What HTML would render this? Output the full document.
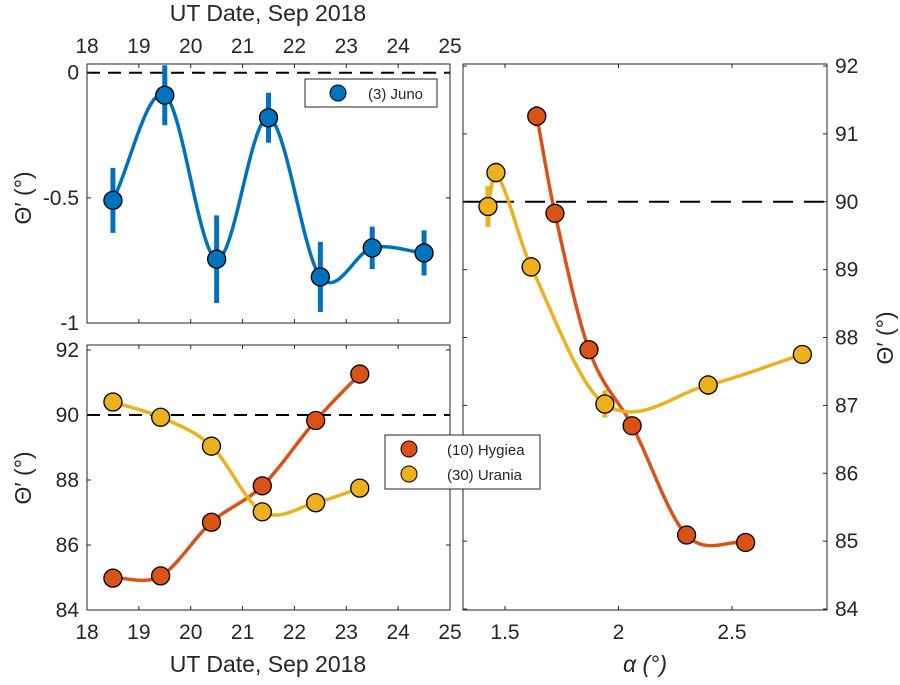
<!DOCTYPE html>
<html><head><meta charset="utf-8"><style>
body{margin:0;background:#fff}
svg text{font-family:"Liberation Sans",sans-serif;fill:#262626}
</style></head><body>
<svg id="c" width="900" height="680" xmlns="http://www.w3.org/2000/svg"></svg>
<script>
const junoDates=[18.5,19.5,20.5,21.5,22.5,23.5,24.5];
const junoVals=[-0.51,-0.09,-0.745,-0.18,-0.816,-0.70,-0.72];
const junoErr=[0.13,0.12,0.175,0.1,0.14,0.085,0.09];
const hygDates=[18.5,19.42,20.4,21.38,22.41,23.26];
const hygVals=[84.98,85.05,86.7,87.82,89.83,91.26];
const uraDates=[18.5,19.42,20.4,21.38,22.41,23.26];
const uraVals=[90.4,89.93,89.04,87.02,87.3,87.75];
const hygAlpha=[1.64,1.72,1.87,2.06,2.30,2.56];
const hygAlphaVals=[91.26,89.83,87.82,86.7,85.09,84.98];
const hygErr=[0.15,0.1,0.1,0.08,0.08,0.08];
const uraAlpha=[1.425,1.46,1.615,1.94,2.395,2.81];
const uraAlphaVals=[89.93,90.43,89.04,87.02,87.3,87.75];
const uraErr=[0.3,0.15,0.15,0.2,0.15,0.1];
const dateTicks=[18,19,20,21,22,23,24,25];
const junoTicks=[0,-0.5,-1];
const junoTickLabels=["0","-0.5","-1"];
const lowTicks=[84,86,88,90,92];
const rightTicks=[84,85,86,87,88,89,90,91,92];
const alphaTicks=[1.5,2,2.5];

const S=document.getElementById('c'),NS='http://www.w3.org/2000/svg';
function el(t,a,p){const e=document.createElementNS(NS,t);for(const k in a)e.setAttribute(k,a[k]);(p||S).appendChild(e);return e;}
function txt(s,a){const e=el('text',a);e.textContent=s;return e;}
const BLUE='#0072BD',RED='#D95319',YEL='#EDB120';
function lin(d0,d1,r0,r1){return v=>r0+(v-d0)/(d1-d0)*(r1-r0);}
function hermite(xs,ys){const n=xs.length,m=[];
 for(let i=0;i<n;i++){if(i==0)m[i]=(ys[1]-ys[0])/(xs[1]-xs[0]);else if(i==n-1)m[i]=(ys[n-1]-ys[n-2])/(xs[n-1]-xs[n-2]);else m[i]=(ys[i+1]-ys[i-1])/(xs[i+1]-xs[i-1]);}
 return x=>{let j=0;while(j<n-2&&x>xs[j+1])j++;const h=xs[j+1]-xs[j],t=(x-xs[j])/h,t2=t*t,t3=t2*t;
  return (2*t3-3*t2+1)*ys[j]+(t3-2*t2+t)*h*m[j]+(-2*t3+3*t2)*ys[j+1]+(t3-t2)*h*m[j+1];};}
function curve(xs,ys,X,Y,col,name,clip){const f=hermite(xs,ys);let p='';const N=240;
 for(let i=0;i<=N;i++){const x=xs[0]+(xs[xs.length-1]-xs[0])*i/N;p+=(i?'L':'M')+X(x).toFixed(2)+','+Y(f(x)).toFixed(2);}
 const e=el('path',{d:p,fill:'none',stroke:col,'stroke-width':3.5,'clip-path':clip});
 
 }
function pts(xs,ys,er,X,Y,col,name,clip){xs.forEach((x,i)=>{
 if(er){const eb=el('line',{x1:X(x),x2:X(x),y1:Y(ys[i]-er[i]),y2:Y(ys[i]+er[i]),stroke:col,'stroke-width':5,'clip-path':clip});
 
 }
 const c=el('circle',{cx:X(x),cy:Y(ys[i]),r:9,fill:col,stroke:'#000','stroke-width':1.3});
 
 });}
function box(x0,y0,x1,y1,name){const r=el('rect',{x:x0,y:y0,width:x1-x0,height:y1-y0,fill:'none',stroke:'#262626','stroke-width':1});
 
 }
function clipRect(id,x0,y0,x1,y1){const cp=el('clipPath',{id});el('rect',{x:x0,y:y0,width:x1-x0,height:y1-y0},cp);return 'url(#'+id+')';}

// Panel A
const aX=lin(18,25,87,450),aY=lin(0,-1,72.7,323);
const ca=clipRect('ca',87,64,450,323);
el('line',{x1:87,x2:450,y1:aY(0),y2:aY(0),stroke:'#000','stroke-width':2,'stroke-dasharray':'13,8'});
curve(junoDates,junoVals,aX,aY,BLUE,'juno-curve',ca);
pts(junoDates,junoVals,junoErr,aX,aY,BLUE,'juno',ca);
box(87,64,450,323,'juno-axes');
dateTicks.forEach(t=>{el('line',{x1:aX(t),x2:aX(t),y1:64,y2:68,stroke:'#262626'});el('line',{x1:aX(t),x2:aX(t),y1:323,y2:319,stroke:'#262626'});
 txt(t,{x:aX(t),y:53,'font-size':21,'text-anchor':'middle'});});
junoTicks.forEach((t,i)=>{el('line',{x1:87,x2:91,y1:aY(t),y2:aY(t),stroke:'#262626'});el('line',{x1:450,x2:446,y1:aY(t),y2:aY(t),stroke:'#262626'});
 txt(junoTickLabels[i],{x:79,y:aY(t)+7,'font-size':21,'text-anchor':'end'});});
txt('UT Date, Sep 2018',{x:268,y:21,'font-size':23,'text-anchor':'middle'});
txt('Θ′ (°)',{x:0,y:0,'font-size':23,'text-anchor':'middle',transform:'translate(31,198) rotate(-90)'});
el('rect',{x:305,y:79,width:132,height:28,fill:'#fff',stroke:'#262626'});
el('circle',{cx:338,cy:93,r:8,fill:BLUE,stroke:'#000'});
txt('(3) Juno',{x:368,y:99,'font-size':15});

// Panel B
const bX=lin(18,25,87,450),bY=lin(84,92,610,350);
const cb=clipRect('cb',87,345,450,610);
el('line',{x1:87,x2:450,y1:bY(90),y2:bY(90),stroke:'#000','stroke-width':2,'stroke-dasharray':'13,8'});
curve(hygDates,hygVals,bX,bY,RED,'hygiea-date-curve',cb);
curve(uraDates,uraVals,bX,bY,YEL,'urania-date-curve',cb);
pts(hygDates,hygVals,null,bX,bY,RED,'hygiea-date',cb);
pts(uraDates,uraVals,null,bX,bY,YEL,'urania-date',cb);
box(87,345,450,610,'date-axes');
dateTicks.forEach(t=>{el('line',{x1:bX(t),x2:bX(t),y1:610,y2:606,stroke:'#262626'});el('line',{x1:bX(t),x2:bX(t),y1:345,y2:349,stroke:'#262626'});
 txt(t,{x:bX(t),y:639,'font-size':21,'text-anchor':'middle'});});
lowTicks.forEach(t=>{el('line',{x1:87,x2:91,y1:bY(t),y2:bY(t),stroke:'#262626'});el('line',{x1:450,x2:446,y1:bY(t),y2:bY(t),stroke:'#262626'});
 txt(t,{x:79,y:bY(t)+7,'font-size':21,'text-anchor':'end'});});
txt('UT Date, Sep 2018',{x:268,y:672,'font-size':23,'text-anchor':'middle'});
txt('Θ′ (°)',{x:0,y:0,'font-size':23,'text-anchor':'middle',transform:'translate(31,478) rotate(-90)'});

// Panel C
const cX=lin(1.5,2.5,505,732),cY=lin(84,92,609,66);
const cc=clipRect('cc',463,64,827,610);
el('line',{x1:463,x2:827,y1:cY(90),y2:cY(90),stroke:'#000','stroke-width':2,'stroke-dasharray':'20,11'});
curve(hygAlpha,hygAlphaVals,cX,cY,RED,'hygiea-alpha-curve',cc);
curve(uraAlpha,uraAlphaVals,cX,cY,YEL,'urania-alpha-curve',cc);
pts(hygAlpha,hygAlphaVals,hygErr,cX,cY,RED,'hygiea-alpha',cc);
pts(uraAlpha,uraAlphaVals,uraErr,cX,cY,YEL,'urania-alpha',cc);
box(463,64,827,610,'alpha-axes');
alphaTicks.forEach(t=>{el('line',{x1:cX(t),x2:cX(t),y1:610,y2:606,stroke:'#262626'});el('line',{x1:cX(t),x2:cX(t),y1:64,y2:68,stroke:'#262626'});
 txt(t,{x:cX(t),y:639,'font-size':21,'text-anchor':'middle'});});
rightTicks.forEach(t=>{el('line',{x1:827,x2:823,y1:cY(t),y2:cY(t),stroke:'#262626'});el('line',{x1:463,x2:467,y1:cY(t),y2:cY(t),stroke:'#262626'});
 txt(t,{x:835,y:cY(t)+7,'font-size':21});});
txt('α (°)',{x:645,y:672,'font-size':23,'text-anchor':'middle','font-style':'italic'});
txt('Θ′ (°)',{x:0,y:0,'font-size':23,'text-anchor':'middle',transform:'translate(893,338) rotate(-90)'});

// legend 2
el('rect',{x:385,y:435,width:155,height:54,fill:'#fff',stroke:'#262626'});
el('circle',{cx:409,cy:449,r:8,fill:RED,stroke:'#000'});
txt('(10) Hygiea',{x:447,y:455,'font-size':15});
el('circle',{cx:409,cy:474,r:8,fill:YEL,stroke:'#000'});
txt('(30) Urania',{x:447,y:480,'font-size':15});
</script>
</body></html>
